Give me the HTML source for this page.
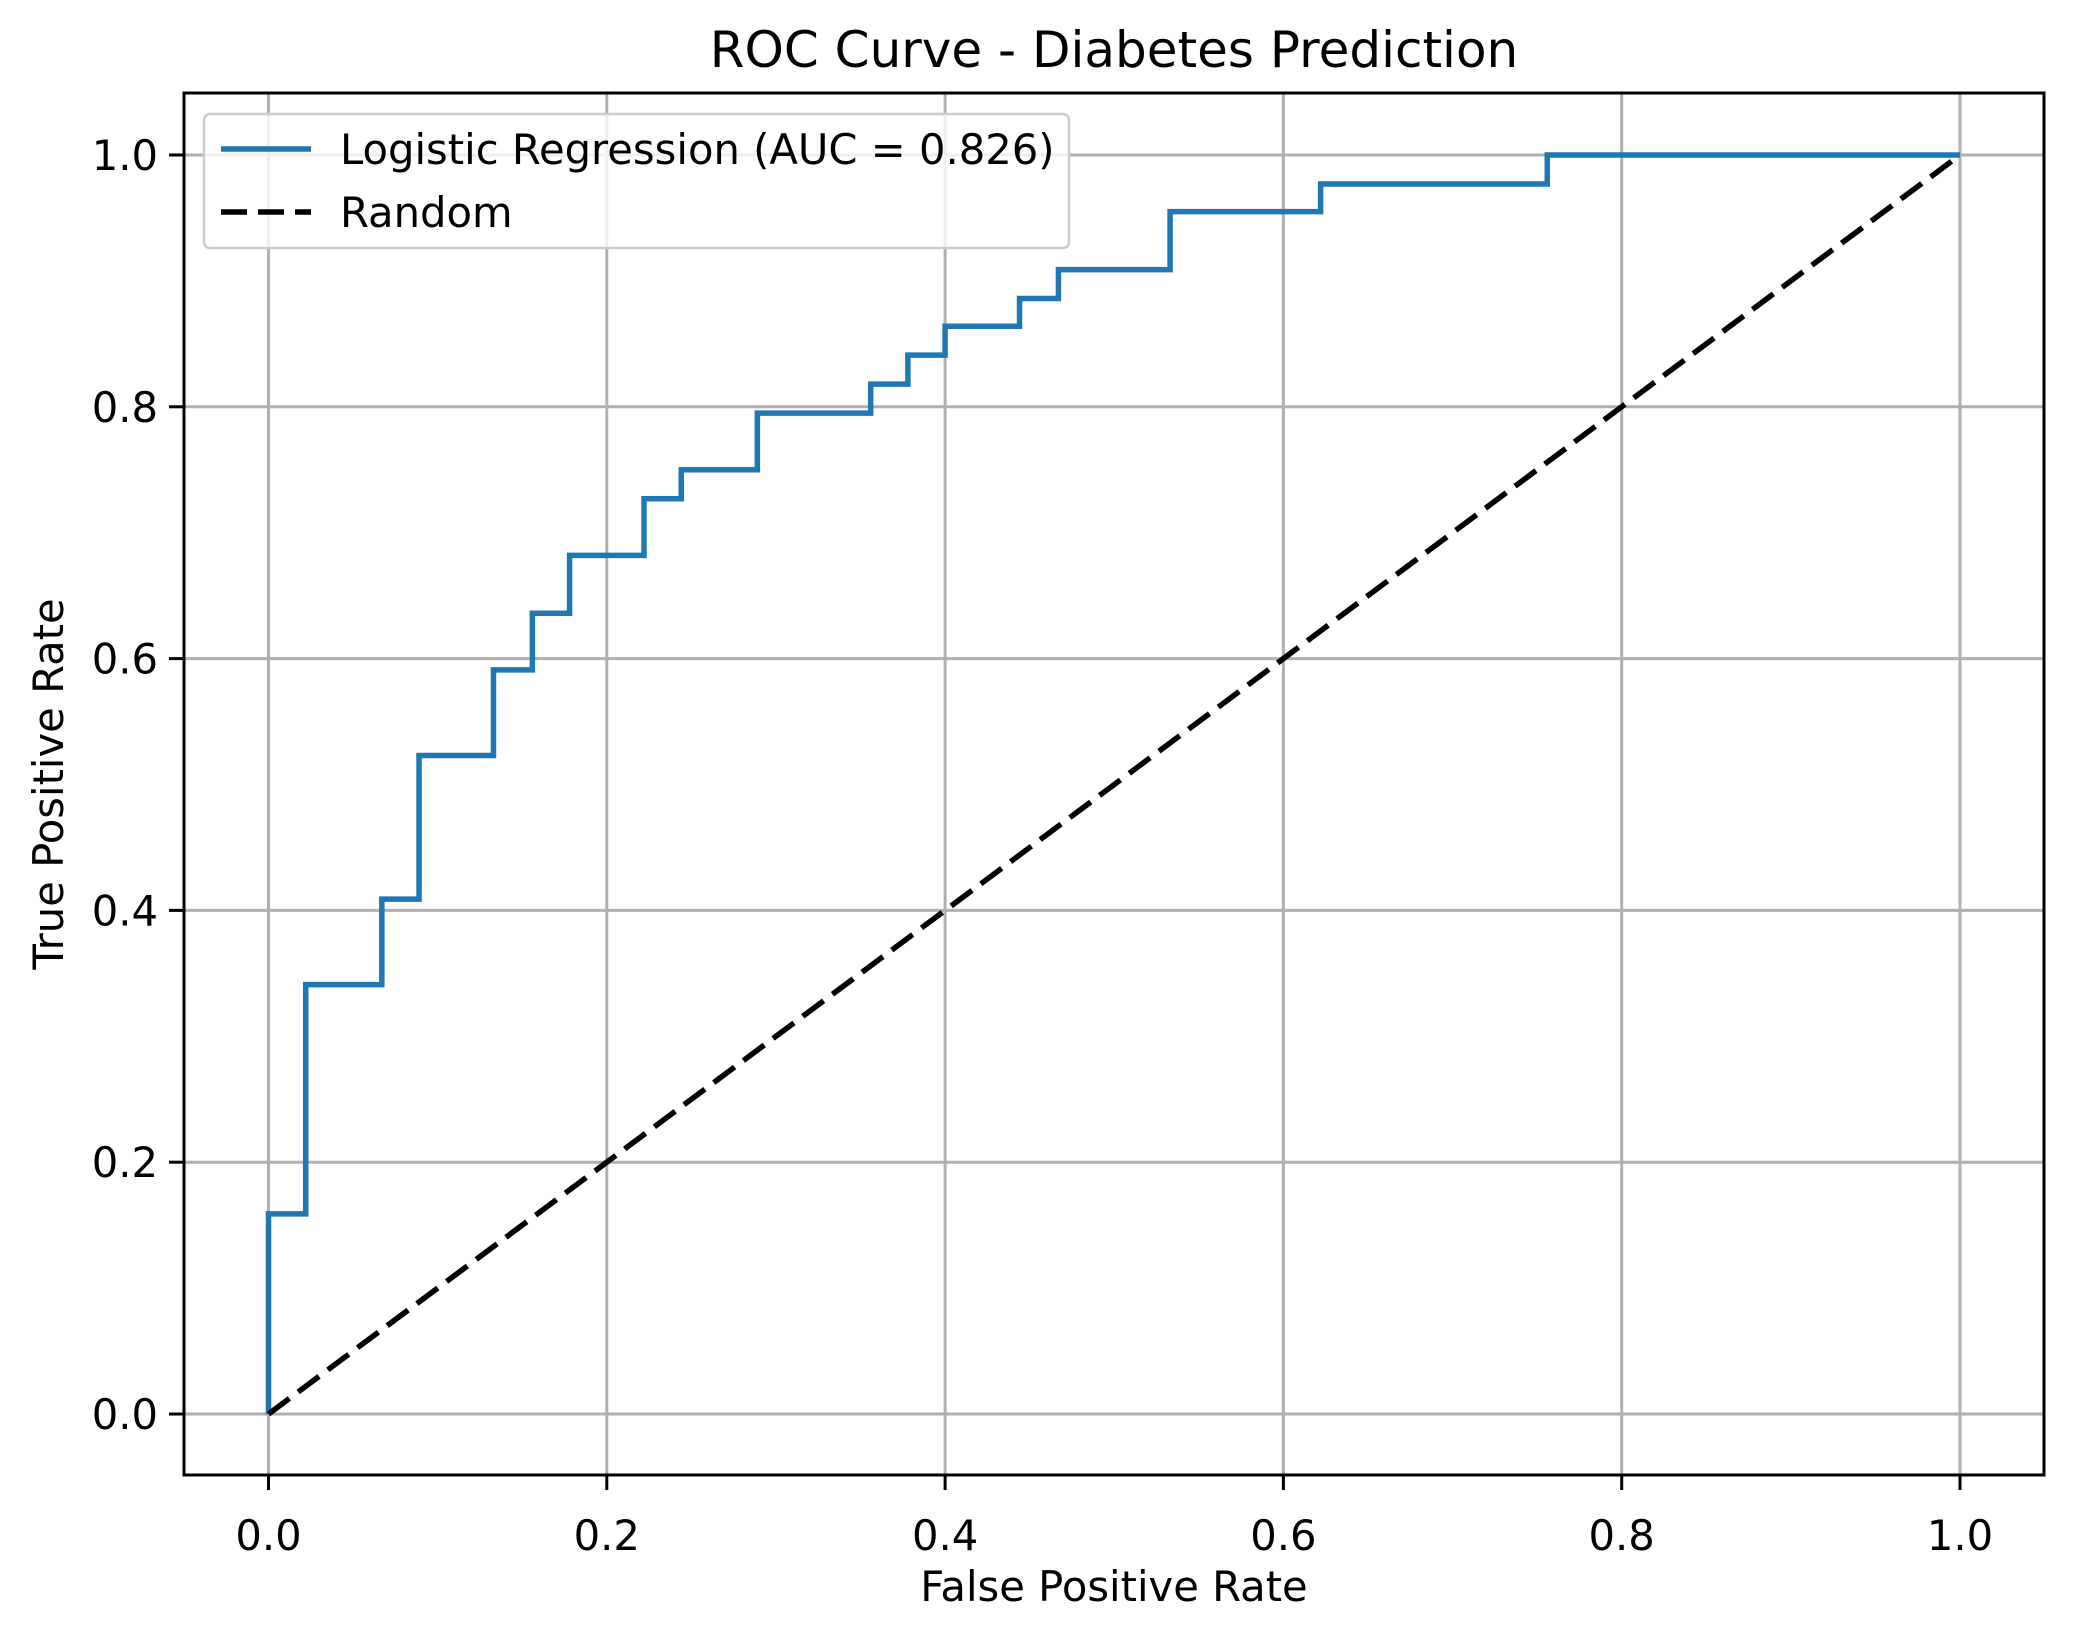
<!DOCTYPE html>
<html><head><meta charset="utf-8"><style>body{margin:0;background:#fff}svg{display:block;font-family:"DejaVu Sans","Liberation Sans",sans-serif}</style></head>
<body>
<svg id="chart" width="2074" height="1638" viewBox="0 0 2074 1638" xmlns="http://www.w3.org/2000/svg">
<rect width="2074" height="1638" fill="#fff"/>
<g id="grid"></g>
<g id="series"></g>
<rect x="184" y="93" width="1860" height="1382" fill="none" stroke="#000" stroke-width="3"/>
<g id="ticks"></g>
<text x="1114" y="67" text-anchor="middle" font-size="50">ROC Curve - Diabetes Prediction</text>
<text x="1114" y="1601" text-anchor="middle" font-size="41.7">False Positive Rate</text>
<text transform="translate(63,784) rotate(-90)" text-anchor="middle" font-size="41.7">True Positive Rate</text>
<g>
<rect x="204" y="114" width="865" height="134" rx="6" fill="#fff" fill-opacity="0.8" stroke="#ccc" stroke-width="2.5"/>
<line x1="221" y1="149" x2="311" y2="149" stroke="#1f77b4" stroke-width="5.5"/>
<text x="340" y="164" font-size="41.7">Logistic Regression (AUC = 0.826)</text>
<line x1="221" y1="212" x2="311" y2="212" stroke="#000" stroke-width="5.5" stroke-dasharray="26,11"/>
<text x="340" y="227" font-size="41.7">Random</text>
</g>
</svg>
<script>
const fpr=[0,0,0.022,0.022,0.067,0.067,0.089,0.089,0.133,0.133,0.156,0.156,0.178,0.178,0.222,0.222,0.244,0.244,0.289,0.289,0.356,0.356,0.378,0.378,0.4,0.4,0.444,0.444,0.467,0.467,0.533,0.533,0.622,0.622,0.756,0.756,1];
const tpr=[0,0.159,0.159,0.341,0.341,0.409,0.409,0.523,0.523,0.591,0.591,0.636,0.636,0.682,0.682,0.727,0.727,0.75,0.75,0.795,0.795,0.818,0.818,0.841,0.841,0.864,0.864,0.886,0.886,0.909,0.909,0.955,0.955,0.977,0.977,1,1];
const randomX=[0,1];
const randomY=[0,1];
const tickValues=[0,0.2,0.4,0.6,0.8,1.0];
const tickLabels=["0.0","0.2","0.4","0.6","0.8","1.0"];
const NS="http://www.w3.org/2000/svg";
const sx=v=>268.5+v*(1960-268.5);
const sy=v=>1414-v*(1414-155);
function mk(tag,attrs,parent){const e=document.createElementNS(NS,tag);for(const k in attrs)e.setAttribute(k,attrs[k]);parent.appendChild(e);return e;}
const grid=document.getElementById('grid'),ticks=document.getElementById('ticks'),series=document.getElementById('series');
tickValues.forEach((v,i)=>{
 const gx=mk('line',{x1:sx(v),x2:sx(v),y1:93,y2:1475,stroke:'#b0b0b0','stroke-width':3},grid);
 
 
 const gy=mk('line',{x1:184,x2:2044,y1:sy(v),y2:sy(v),stroke:'#b0b0b0','stroke-width':3},grid);
 
 
 mk('line',{x1:sx(v),x2:sx(v),y1:1475,y2:1490,stroke:'#000','stroke-width':3},ticks);
 mk('line',{x1:169,x2:184,y1:sy(v),y2:sy(v),stroke:'#000','stroke-width':3},ticks);
 const tx=mk('text',{x:sx(v),y:1550,'text-anchor':'middle','font-size':41.7},ticks);
 tx.textContent=tickLabels[i];
 
 
 const ty=mk('text',{x:158,y:sy(v)+15,'text-anchor':'end','font-size':41.7},ticks);
 ty.textContent=tickLabels[i];
 
 
});
const roc=mk('polyline',{points:fpr.map((x,i)=>sx(x)+','+sy(tpr[i])).join(' '),fill:'none',stroke:'#1f77b4','stroke-width':5.5,'stroke-linejoin':'miter'},series);


const rnd=mk('polyline',{points:randomX.map((x,i)=>sx(x)+','+sy(randomY[i])).join(' '),fill:'none',stroke:'#000','stroke-width':5.5,'stroke-dasharray':'26,11'},series);


</script>
</body></html>
